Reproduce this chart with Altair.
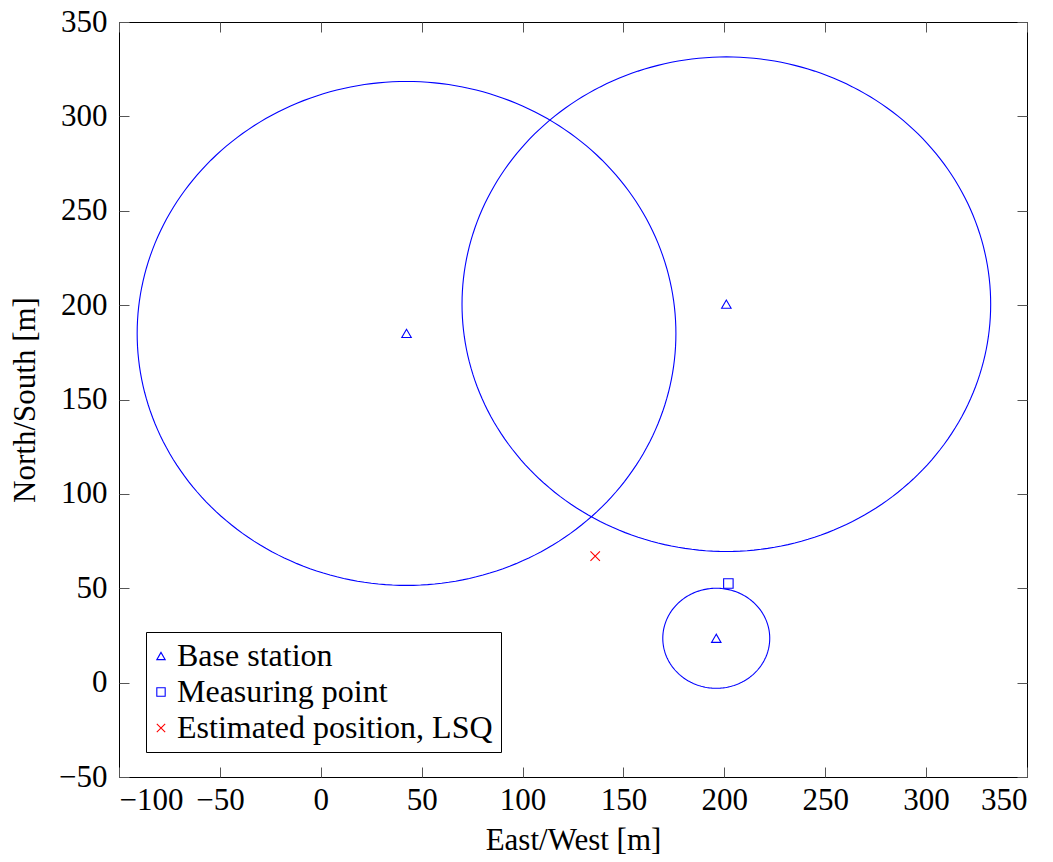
import altair as alt
import numpy as np
import pandas as pd

# Base stations (centres) and measured ranges (radii)
bs_x = [42.5, 201.0, 196.0]
bs_y = [185.0, 200.5, 23.5]
bs_r = [133.5, 131.0, 26.5]

# Measuring point and LSQ estimate
mp_x = [202.0]
mp_y = [52.5]
est_x = [136.0]
est_y = [67.0]

x_ticks = [-100, -50, 0, 50, 100, 150, 200, 250, 300, 350]
y_ticks = [-50, 0, 50, 100, 150, 200, 250, 300, 350]

labels = ["Base station", "Measuring point", "Estimated position, LSQ"]
shapes = ["triangle-up", "square", "M-1,-1L1,1M-1,1L1,-1"]
colors = ["#0000ff", "#0000ff", "#ff0000"]

FONT = "Liberation Serif"
FS = 31

# circle outlines
rows = []
ang = np.linspace(0, 2 * np.pi, 241)
for i, (cx, cy, r) in enumerate(zip(bs_x, bs_y, bs_r)):
    for k, a in enumerate(ang):
        rows.append({"id": i, "k": k, "x": cx + r * np.cos(a), "y": cy + r * np.sin(a)})
circ = pd.DataFrame(rows)

pts = pd.DataFrame(
    [{"x": x, "y": y, "label": labels[0]} for x, y in zip(bs_x, bs_y)]
    + [{"x": x, "y": y, "label": labels[1]} for x, y in zip(mp_x, mp_y)]
    + [{"x": x, "y": y, "label": labels[2]} for x, y in zip(est_x, est_y)]
)

xscale = alt.Scale(domain=[-100, 350], nice=False, zero=False)
yscale = alt.Scale(domain=[-50, 350], nice=False, zero=False)

common_axis = dict(domain=False, grid=False, tickSize=10, offset=-10,
                   tickColor="#555555", tickWidth=1, labelOverlap=False,
                   labelFont=FONT, labelFontSize=FS, labelColor="black",
                   titleFont=FONT, titleFontSize=FS, titleColor="black",
                   titleFontWeight="normal")

legend_opts = dict(title=None, orient="none", legendX=27, legendY=610,
                   strokeColor="black", fillColor="white",
                   padding=8, rowPadding=4, labelOffset=0,
                   labelLimit=500,
                   labelFont=FONT, labelFontSize=32, labelColor="black",
                   symbolSize=70, symbolStrokeWidth=1.1,
                   symbolFillColor="transparent", cornerRadius=0)
try:
    legend = alt.Legend(symbolOffset=-9, **legend_opts)
except Exception:
    legend = alt.Legend(**legend_opts)

circles = alt.Chart(circ).mark_line(strokeWidth=1.1, color="#0000ff").encode(
    x=alt.X("x:Q", scale=xscale,
            axis=alt.Axis(values=x_ticks, title="East/West [m]", orient="bottom",
                          labelPadding=8, titlePadding=10, **common_axis)),
    y=alt.Y("y:Q", scale=yscale,
            axis=alt.Axis(values=y_ticks, title="North/South [m]", orient="left",
                          labelPadding=12, titlePadding=17, **common_axis)),
    detail="id:N",
    order="k:Q",
)

points = alt.Chart(pts).mark_point(filled=False, strokeWidth=1.1, opacity=1).encode(
    x=alt.X("x:Q", scale=xscale,
            axis=alt.Axis(values=x_ticks, title=None, orient="top", labels=False, **common_axis)),
    y=alt.Y("y:Q", scale=yscale,
            axis=alt.Axis(values=y_ticks, title=None, orient="right", labels=False, **common_axis)),
    shape=alt.Shape("label:N", sort=None,
                    scale=alt.Scale(domain=labels, range=shapes), legend=legend),
    color=alt.Color("label:N", sort=None,
                    scale=alt.Scale(domain=labels, range=colors), legend=legend),
    size=alt.value(90),
)

chart = alt.layer(circles, points).resolve_axis(x="independent", y="independent").properties(
    width=908, height=755,
    background="white",
    autosize=alt.AutoSizeParams(type="none"),
    padding={"left": 111, "top": 14, "right": 18, "bottom": 85},
).configure_view(stroke="black", strokeWidth=1)

chart.save("out.html", embed_options={"renderer": "svg", "actions": False})
